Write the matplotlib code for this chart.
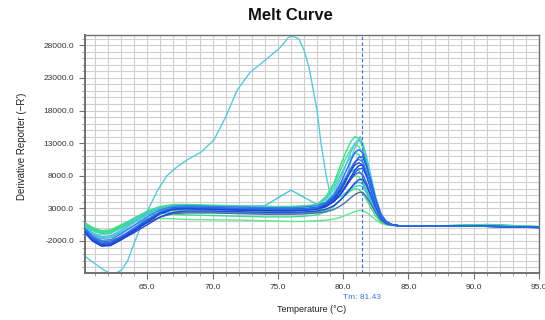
import matplotlib
matplotlib.use("Agg")
import matplotlib.pyplot as plt
from matplotlib.ticker import MultipleLocator, FixedLocator, FormatStrFormatter
from matplotlib.transforms import blended_transform_factory

plt.rcParams['font.family'] = ['Liberation Sans', 'DejaVu Sans']

# Temperature steps (°C) shared by the regular wells
temps = [60.2, 60.8, 61.5, 62.2, 63.0, 64.0, 65.0, 66.0, 67.0, 68.0,
         70.0, 72.0, 74.0, 75.0, 76.0, 77.0, 78.0, 78.7, 79.3, 79.8,
         80.2, 80.6, 80.9, 81.2, 81.5, 81.8, 82.1, 82.5, 82.9, 83.3,
         83.7, 84.2, 85.0, 88.0, 91.0, 95.0]

# Derivative reporter (-R') per well
well_A1 = [600, -200, -700, -600, 300, 1500, 2600, 3300, 3600, 3600, 3500, 3400, 3300, 3300, 3300, 3400, 3600, 4850, 6930, 9630, 11610, 13270, 14000, 13690, 12360, 9910, 7180, 3760, 1720, 760, 490, 350, 300, 350, 500, 150]
well_A2 = [400, -400, -900, -800, 100, 1300, 2400, 3100, 3500, 3500, 3400, 3300, 3200, 3200, 3200, 3300, 3500, 4620, 6480, 8890, 10660, 12150, 12800, 12520, 11310, 9070, 6580, 3460, 1600, 720, 470, 350, 300, 300, 450, 150]
well_A3 = [500, -300, -900, -800, 0, 1100, 2100, 2700, 2900, 2900, 2800, 2700, 2600, 2600, 2600, 2700, 2900, 3630, 4850, 6440, 7600, 8570, 9000, 8820, 7960, 6400, 4680, 2510, 1220, 610, 440, 350, 300, 320, 450, 150]
well_A4 = [700, 0, -500, -400, 400, 1500, 2400, 2700, 2700, 2600, 2500, 2400, 2300, 2300, 2300, 2400, 2600, 3250, 4330, 5730, 6760, 7620, 8000, 7840, 7080, 5710, 4180, 2260, 1120, 580, 430, 350, 300, 350, 550, 200]
well_A5 = [600, -100, -600, -500, 100, 900, 1400, 1500, 1400, 1300, 1250, 1200, 1100, 1050, 1000, 1000, 1100, 1200, 1370, 1640, 1930, 2270, 2510, 2670, 2680, 2350, 1900, 1240, 730, 490, 400, 350, 300, 350, 500, 200]
well_A6 = [800, 100, -400, -300, 500, 1400, 2000, 2200, 2100, 2000, 1900, 1800, 1700, 1700, 1700, 1800, 2000, 2480, 3280, 4320, 5080, 5720, 6000, 5880, 5320, 4310, 3180, 1760, 920, 520, 410, 350, 300, 350, 500, 200]
well_A7 = [500, -300, -800, -700, 200, 1400, 2400, 3100, 3400, 3400, 3350, 3250, 3150, 3150, 3150, 3250, 3450, 4420, 6030, 8120, 9650, 10940, 11500, 11260, 10160, 8160, 5930, 3140, 1470, 680, 460, 350, 300, 320, 450, 150]
well_B1 = [200, -900, -1500, -1400, -500, 800, 2000, 2900, 3200, 3200, 3100, 3000, 2900, 2900, 2900, 3000, 3200, 4020, 5470, 7530, 9590, 11650, 12990, 13500, 12990, 10870, 8240, 4690, 2190, 1010, 550, 350, 320, 300, 300, 150]
well_B2 = [100, -1000, -1600, -1500, -700, 400, 1400, 2200, 2400, 2400, 2400, 2300, 2200, 2200, 2200, 2300, 2400, 2770, 3410, 4330, 5250, 6170, 6770, 7000, 6770, 5670, 4340, 2540, 1280, 680, 450, 350, 320, 300, 300, 150]
well_B3 = [300, -700, -1300, -1200, -300, 1000, 2200, 3000, 3300, 3300, 3300, 3300, 3400, 4600, 5800, 4700, 3600, 3830, 4240, 4820, 5400, 5980, 6360, 6500, 6360, 5270, 4040, 2380, 1210, 660, 440, 350, 320, 300, 300, 120]
well_C1 = [-200, -1500, -2300, -2200, -1300, 0, 1300, 2500, 3100, 3200, 3100, 3000, 2900, 2850, 2850, 2900, 3100, 3810, 5060, 6840, 8620, 10400, 11560, 12000, 11560, 9670, 7340, 4190, 1980, 930, 520, 350, 300, 300, 250, 100]
well_C2 = [-500, -1800, -2600, -2500, -1600, -300, 1000, 2300, 3000, 3100, 3000, 2900, 2800, 2800, 2800, 2850, 3000, 3480, 4360, 5720, 7160, 8840, 10040, 10840, 10920, 9400, 7380, 4400, 2050, 990, 560, 350, 300, 280, 250, 80]
well_C3 = [0, -1200, -1900, -1800, -900, 400, 1700, 2800, 3300, 3400, 3300, 3200, 3100, 3100, 3100, 3200, 3400, 3970, 4960, 6380, 7800, 9220, 10150, 10500, 10150, 8470, 6440, 3700, 1770, 860, 500, 350, 320, 300, 280, 120]
well_C4 = [-700, -2000, -2800, -2700, -1800, -500, 900, 2200, 2900, 3000, 2900, 2800, 2700, 2700, 2700, 2750, 2900, 3310, 4060, 5210, 6440, 7860, 8880, 9560, 9630, 8300, 6520, 3900, 1850, 910, 540, 350, 300, 300, 250, 50]
well_C5 = [-300, -1600, -2400, -2300, -1500, -200, 1100, 2300, 2800, 2900, 2800, 2700, 2650, 2600, 2600, 2700, 2850, 3300, 4090, 5220, 6350, 7480, 8220, 8500, 8220, 6870, 5240, 3040, 1490, 760, 470, 350, 300, 300, 250, 100]
well_C6 = [-400, -1700, -2500, -2500, -1800, -700, 500, 1700, 2400, 2600, 2600, 2500, 2400, 2400, 2400, 2450, 2600, 2890, 3430, 4270, 5150, 6180, 6910, 7400, 7450, 6430, 5070, 3070, 1490, 780, 490, 350, 300, 280, 250, 80]
well_C7 = [-300, -1400, -2100, -2000, -1300, -300, 800, 1700, 2200, 2300, 2300, 2200, 2100, 2100, 2100, 2150, 2300, 2490, 2840, 3390, 3960, 4640, 5120, 5440, 5470, 4730, 3750, 2310, 1170, 660, 450, 350, 300, 300, 250, 100]
well_C8 = [-400, -1700, -2400, -2300, -1400, -100, 1200, 2400, 3000, 3100, 3050, 2950, 2850, 2800, 2800, 2900, 3050, 3420, 4100, 5140, 6250, 7540, 8460, 9080, 9140, 7870, 6190, 3710, 1770, 880, 530, 350, 300, 300, 250, 60]
well_C9 = [-600, -1900, -2700, -2600, -1700, -400, 900, 2200, 2900, 3050, 3000, 2950, 2900, 2900, 2900, 2950, 3100, 3650, 4620, 6000, 7380, 8760, 9660, 10000, 9660, 8070, 6140, 3530, 1700, 830, 490, 350, 300, 300, 250, 80]

# Well with the broad low-temperature product
outlier_temps = [60.2, 61.0, 61.8, 62.4, 63.0, 63.5, 64.0, 64.5, 65.1, 65.8,
                 66.5, 67.3, 68.1, 69.1, 70.1, 71.0, 71.9, 72.9, 74.2, 75.2,
                 75.8, 76.1, 76.6, 77.0, 77.4, 78.0, 78.3, 78.7, 79.0, 79.4,
                 79.8, 80.3, 80.8, 81.3, 81.7, 82.1, 82.5, 83.0, 83.5, 84.0,
                 85.0, 90.0, 95.0]
outlier_values = [-4300, -5500, -6600, -7100, -6500, -5000, -2300, 200, 3000, 5800,
                  8000, 9400, 10500, 11600, 13500, 17000, 21200, 23900, 26000, 27700,
                  29200, 29400, 29000, 27300, 24500, 18000, 13000, 8000, 5200, 4300,
                  5200, 8000, 11800, 14000, 11500, 7200, 3600, 1200, 500, 350,
                  300, 300, 150]

tm_value = 81.43
x_ticks = [65.0, 70.0, 75.0, 80.0, 85.0, 90.0, 95.0]
y_ticks = [-2000, 3000, 8000, 13000, 18000, 23000, 28000]

# Draw order: greens first, blues on top
wells = [
    (well_A5, '#5ee68a'), (well_A6, '#40d890'), (well_A4, '#52e07a'),
    (well_A3, '#38d0b0'), (well_A1, '#3ddc84'), (well_A2, '#4ad9a6'),
    (well_A7, '#3ad6b8'), (well_B3, '#48c4d8'), (well_B2, '#36b8dc'),
    (well_B1, '#4cc6e4'), (well_C7, '#4a6ea8'), (well_C6, '#2548d6'),
    (well_C5, '#2f62e0'), (well_C8, '#2c5ae4'), (well_C4, '#1a3ccf'),
    (well_C9, '#1e46d2'), (well_C3, '#3a7ee8'), (well_C2, '#2250dc'),
    (well_C1, '#2a6fe6'),
]

fig = plt.figure(figsize=(5.45, 3.2), dpi=100)
ax = fig.add_axes([0.156, 0.147, 0.833, 0.744])

ax.plot(outlier_temps, outlier_values, color='#5cc8dc', lw=1.0, zorder=2)
for values, color in wells:
    ax.plot(temps, values, color=color, lw=1.0, zorder=3)

ax.axvline(tm_value, color='#3a6fd8', lw=0.8, ls=(0, (3, 2)), zorder=4)

ax.set_xlim(60.23, 95.0)
ax.set_ylim(-6900, 29600)
ax.xaxis.set_major_locator(FixedLocator(x_ticks))
ax.xaxis.set_minor_locator(MultipleLocator(1))
ax.yaxis.set_major_locator(FixedLocator(y_ticks))
ax.yaxis.set_minor_locator(MultipleLocator(1000))
ax.xaxis.set_major_formatter(FormatStrFormatter('%.1f'))
ax.yaxis.set_major_formatter(FormatStrFormatter('%.1f'))
ax.grid(which='both', color='#cfcfcf', lw=0.8, zorder=0)
ax.set_axisbelow(True)

ax.tick_params(which='major', length=4, width=0.8, color='#707070',
               labelsize=6, labelcolor='#333333', pad=4)
ax.tick_params(which='minor', length=2.5, width=0.6, color='#909090')
for side in ['left', 'bottom', 'top', 'right']:
    ax.spines[side].set_color('#707070')
    ax.spines[side].set_linewidth(1.0)
ax.spines['left'].set_linewidth(1.4)
ax.spines['bottom'].set_linewidth(1.4)

trans = blended_transform_factory(ax.transData, ax.transAxes)
ax.text(tm_value, -0.105, f"Tm: {tm_value:.2f}", transform=trans,
        ha='center', va='center', fontsize=6, color='#3a78d8')

fig.text(290 / 545, 1 - 15 / 320, "Melt Curve", ha='center', va='center',
         fontsize=12, fontweight='bold', color='#111111')
fig.text(312 / 545, 1 - 309 / 320, "Temperature (°C)", ha='center', va='center',
         fontsize=6.5, color='#222222')
fig.text(22 / 545, 1 - 146 / 320, "Derivative Reporter (\u2212R')", ha='center',
         va='center', rotation=90, fontsize=7, color='#222222')

fig.savefig("out.png", dpi=100)
